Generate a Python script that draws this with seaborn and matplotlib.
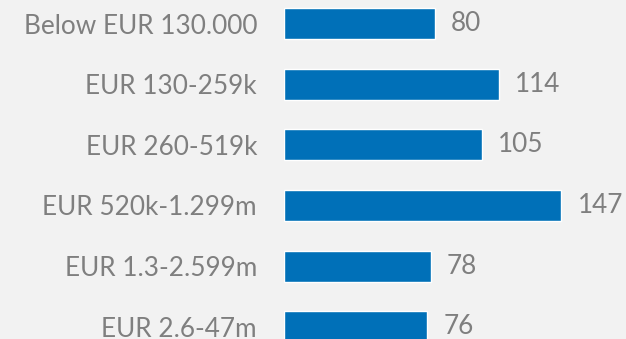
import matplotlib
matplotlib.use("Agg")
import matplotlib.pyplot as plt
import seaborn as sns
import pandas as pd

# Number of companies per turnover band
bands = ["Below EUR 130.000", "EUR 130-259k", "EUR 260-519k",
         "EUR 520k-1.299m", "EUR 1.3-2.599m", "EUR 2.6-47m"]
counts = [80, 114, 105, 147, 78, 76]

df = pd.DataFrame({"band": bands, "count": counts})

sns.set_theme(style="white")
plt.rcParams["font.family"] = ["Lato", "DejaVu Sans"]

bg = "#F2F2F2"
bar_color = "#0070B8"
text_color = "#7F7F7F"

fig = plt.figure(figsize=(6.26, 3.39), dpi=100, facecolor=bg)
ax = fig.add_axes([283.5 / 626, 0, (626 - 283.5) / 626, 1])
ax.set_facecolor(bg)

sns.barplot(data=df, x="count", y="band", orient="h", color=bar_color,
            width=0.51, saturation=1, ax=ax)

ax.set_xlim(0, (626 - 283.5) / 1.891)
ax.set_ylim(5.203, -0.391)

ax.bar_label(ax.containers[0], labels=[str(v) for v in counts],
             padding=11.5, fontsize=18.8, color=text_color)

ax.set_xlabel("")
ax.set_ylabel("")
ax.set_xticks([])
ax.tick_params(axis="y", length=0, pad=19, labelsize=18.8, labelcolor=text_color)
for s in ax.spines.values():
    s.set_visible(False)

fig.savefig("out.png", dpi=100, facecolor=bg)
